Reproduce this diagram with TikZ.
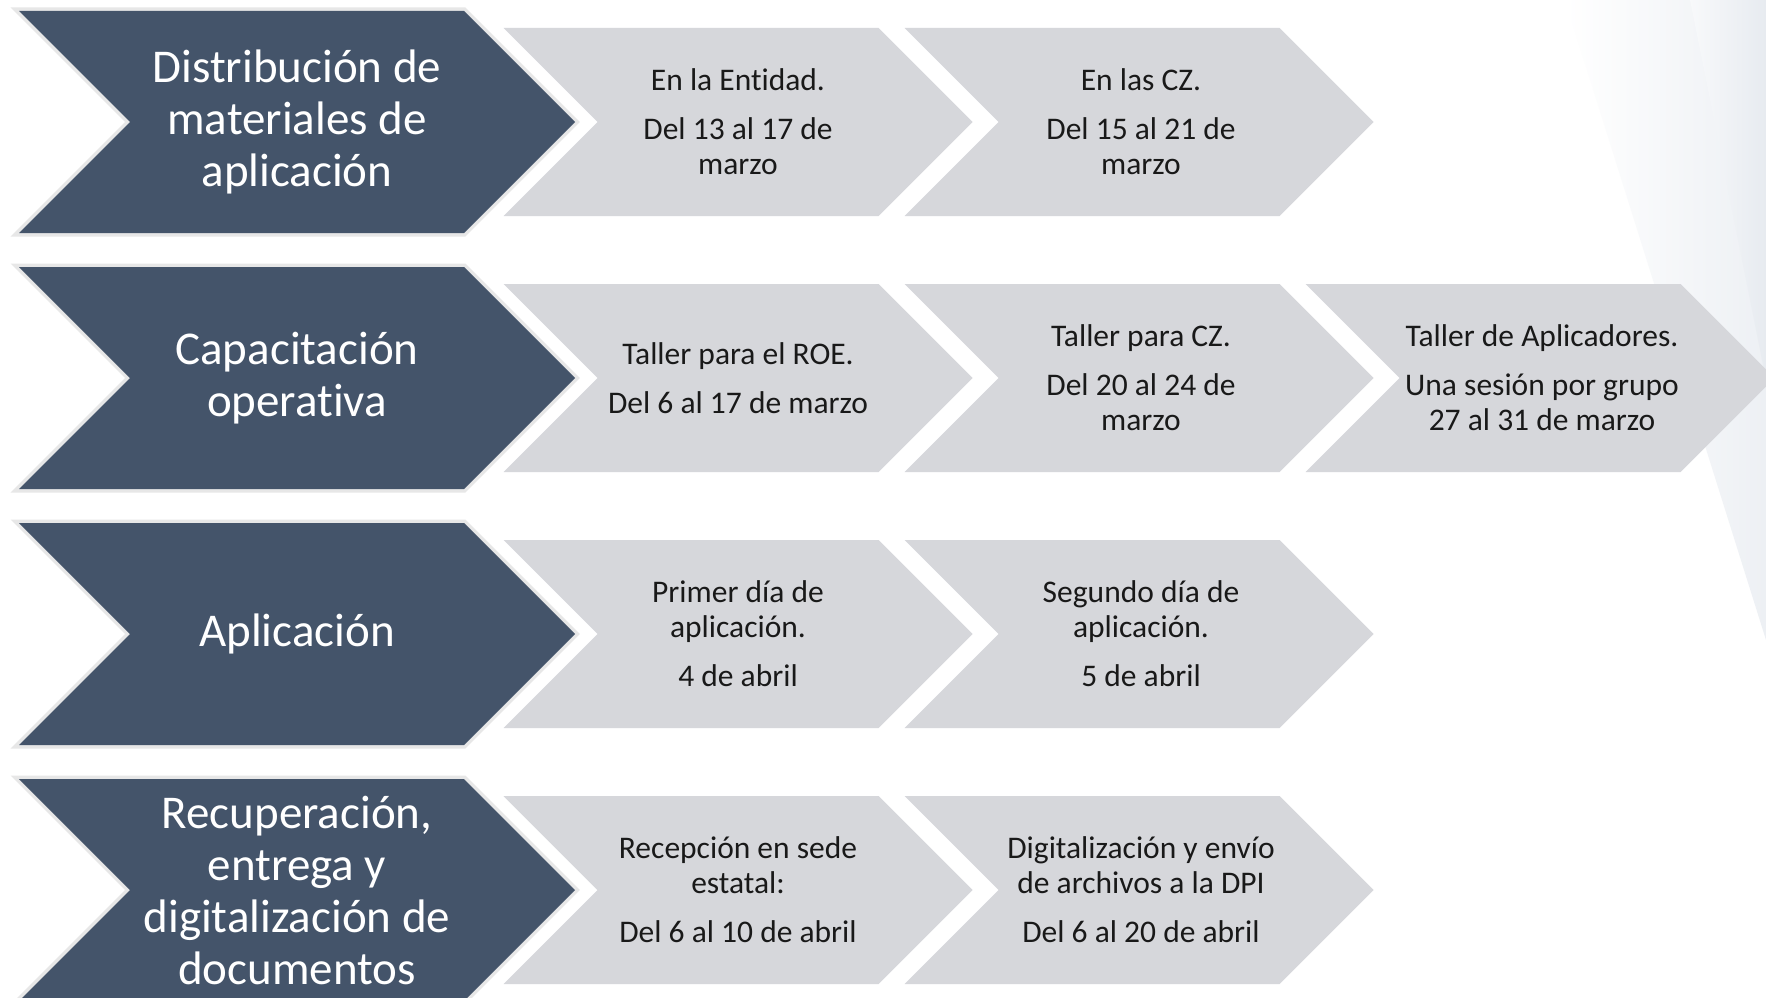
\documentclass[tikz,border=0pt]{standalone}
\usepackage{fontspec}
\setmainfont{Carlito}[Ligatures=NoCommon]
\definecolor{darkc}{RGB}{68,84,106}
\definecolor{grayc}{RGB}{214,215,219}
\definecolor{rimc}{RGB}{231,231,231}
\definecolor{bgc}{RGB}{237,240,244}
\definecolor{bgd}{RGB}{231,235,240}
\tikzset{
  darkshape/.style={fill=darkc, preaction={draw=rimc, line width=7pt}, line join=miter},
  grayshape/.style={fill=grayc},
  darktext/.style={text=white, font=\fontsize{47}{52}\selectfont, align=center, inner sep=0pt},
  graytext/.style={text=black!90, font=\fontsize{31.5}{35}\selectfont, align=center, inner sep=0pt},
}
\newcommand\darkchev[1]{%
  \path[darkshape] (19,#1-111) -- ++(445,0) -- ++(111,111) -- ++(-111,111) -- ++(-445,0) -- ++(111,-111) -- cycle;}
\newcommand\graychev[2]{%
  \path[grayshape] (#1,#2-94) -- ++(375,0) -- ++(94,94) -- ++(-94,94) -- ++(-375,0) -- ++(94,-94) -- cycle;}
\begin{document}
\begin{tikzpicture}[x=1pt,y=-1pt]
\clip (0,0) rectangle (1766,998);
\fill[white] (0,0) rectangle (1766,998);
\shade[left color=white, right color=bgc] (1565,0) -- (1766,0) -- (1766,640) -- cycle;
\shade[left color=bgc!40, right color=bgd] (1690,0) -- (1766,0) -- (1766,380) -- cycle;

% Row 1
\darkchev{122}
\graychev{503.5}{122}
\graychev{904.5}{122}
\node[darktext] (d1) at (297,122) {Distribución de\\materiales de\\aplicación};
\node[graytext] (g11) at (738,122) {En la Entidad.\\[14pt]Del 13 al 17 de\\marzo};
\node[graytext] (g12) at (1141,122) {En las CZ.\\[14pt]Del 15 al 21 de\\marzo};

% Row 2
\darkchev{378}
\graychev{503.5}{378}
\graychev{904.5}{378}
\graychev{1305.5}{378}
\node[darktext] (d2) at (297,378) {Capacitación\\operativa};
\node[graytext] (g21) at (738,378) {Taller para el ROE.\\[14pt]Del 6 al 17 de marzo};
\node[graytext] (g22) at (1141,378) {Taller para CZ.\\[14pt]Del 20 al 24 de\\marzo};
\node[graytext] (g23) at (1542,378) {Taller de Aplicadores.\\[14pt]Una sesión por grupo\\27 al 31 de marzo};

% Row 3
\darkchev{634}
\graychev{503.5}{634}
\graychev{904.5}{634}
\node[darktext] (d3) at (297,634) {Aplicación};
\node[graytext] (g31) at (738,634) {Primer día de\\aplicación.\\[14pt]4 de abril};
\node[graytext] (g32) at (1141,634) {Segundo día de\\aplicación.\\[14pt]5 de abril};

% Row 4
\darkchev{890}
\graychev{503.5}{890}
\graychev{904.5}{890}
\node[darktext] (d4) at (297,890) {Recuperación,\\entrega y\\digitalización de\\documentos};
\node[graytext] (g41) at (738,890) {Recepción en sede\\estatal:\\[14pt]Del 6 al 10 de abril};
\node[graytext] (g42) at (1141,890) {Digitalización y envío\\de archivos a la DPI\\[14pt]Del 6 al 20 de abril};
\end{tikzpicture}
\end{document}
